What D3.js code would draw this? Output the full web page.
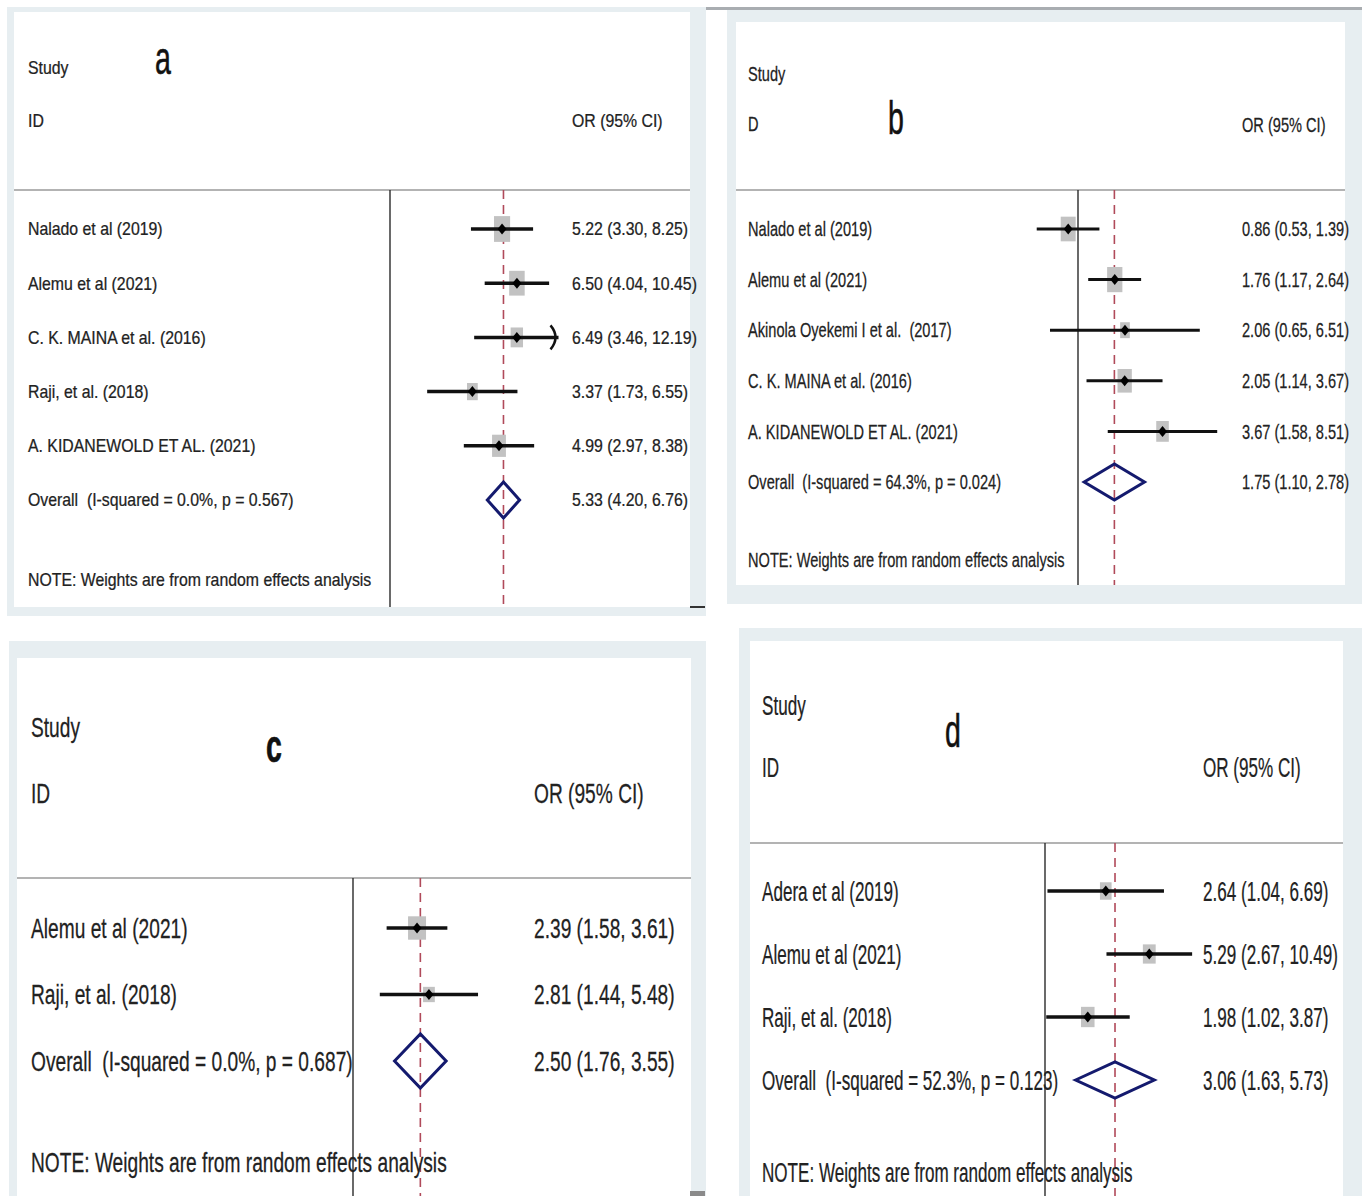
<!DOCTYPE html>
<html>
<head>
<meta charset="utf-8">
<script src="https://cdn.jsdelivr.net/npm/d3@7"></script>
<style>
body { margin: 0; background: #fff; }
svg { display: block; }
text { font-family: "Liberation Sans", Arial, sans-serif; fill: #222; stroke: #222; stroke-width: 0.25px; white-space: pre; }
</style>
</head>
<body>
<script>
/* global d3 */
// panel a
var studiesA = ['Nalado et al (2019)', 'Alemu et al (2021)', 'C. K. MAINA et al. (2016)', 'Raji, et al. (2018)', 'A. KIDANEWOLD ET AL. (2021)'];
var orA      = [5.22, 6.50, 6.49, 3.37, 4.99];
var lowA     = [3.30, 4.04, 3.46, 1.73, 2.97];
var highA    = [8.25, 10.45, 12.19, 6.55, 8.38];
var weightA  = [27, 25, 16, 12, 20];
var overallA = [5.33, 4.20, 6.76];
var hetA     = 'I-squared = 0.0%, p = 0.567';

// panel b
var studiesB = ['Nalado et al (2019)', 'Alemu et al (2021)', 'Akinola Oyekemi I et al.  (2017)', 'C. K. MAINA et al. (2016)', 'A. KIDANEWOLD ET AL. (2021)'];
var orB      = [0.86, 1.76, 2.06, 2.05, 3.67];
var lowB     = [0.53, 1.17, 0.65, 1.14, 1.58];
var highB    = [1.39, 2.64, 6.51, 3.67, 8.51];
var weightB  = [24, 25, 10, 22, 17];
var overallB = [1.75, 1.10, 2.78];
var hetB     = 'I-squared = 64.3%, p = 0.024';

// panel c
var studiesC = ['Alemu et al (2021)', 'Raji, et al. (2018)'];
var orC      = [2.39, 2.81];
var lowC     = [1.58, 1.44];
var highC    = [3.61, 5.48];
var weightC  = [70, 30];
var overallC = [2.50, 1.76, 3.55];
var hetC     = 'I-squared = 0.0%, p = 0.687';

// panel d
var studiesD = ['Adera et al (2019)', 'Alemu et al (2021)', 'Raji, et al. (2018)'];
var orD      = [2.64, 5.29, 1.98];
var lowD     = [1.04, 2.67, 1.02];
var highD    = [6.69, 10.49, 3.87];
var weightD  = [28, 34, 38];
var overallD = [3.06, 1.63, 5.73];
var hetD     = 'I-squared = 52.3%, p = 0.123';

var width  = 1362;
var height = 1196;
var fmt = d3.format('.2f');

var svg = d3.select('body')
.append('svg')
.attr('width', width)
.attr('height', height)
.attr('viewBox', [0, 0, width, height].join(' '));

// extra grey rule above panel b
svg.append('rect').attr('x', 705).attr('y', 7).attr('width', 657).attr('height', 3).attr('fill', '#a9adb1');

var panels = [
  {
    letter: 'a', studies: studiesA, or: orA, low: lowA, high: highA, weight: weightA, overall: overallA, het: hetA,
    frame: [7, 7, 706, 616], inner: [14, 12, 690, 607],
    domain: [1 / 12, 12], range: [221.5, 558.5],
    sep: 190, rows: [229, 500], note: 580,
    studyY: 68, idY: 121, idText: 'ID', orY: 121,
    labelX: 28, valueX: 572, letterX: 155, letterY: 74, letterBold: false,
    fs: 18, sx: 0.88, k: 3.1, boxRatio: 1.6, dh: 18, lw: 3.5
  },
  {
    letter: 'b', studies: studiesB, or: orB, low: lowB, high: highB, weight: weightB, overall: overallB, het: hetB,
    frame: [727, 10, 1362, 604], inner: [736, 22, 1345, 585],
    domain: [0.1, 10], range: [928.3, 1227.7],
    sep: 190, rows: [229, 482], note: 560,
    studyY: 74, idY: 124, idText: 'D', orY: 125,
    labelX: 748, valueX: 1242, letterX: 888, letterY: 134, letterBold: false,
    fs: 20, sx: 0.73, k: 3.05, boxRatio: 1.65, dh: 18, lw: 3
  },
  {
    letter: 'c', studies: studiesC, or: orC, low: lowC, high: highC, weight: weightC, overall: overallC, het: hetC,
    frame: [9, 641, 706, 1196], inner: [17, 658, 691, 1196],
    domain: [1 / 6, 6], range: [221.3, 484.7],
    sep: 878, rows: [928, 1061], note: 1162,
    studyY: 727, idY: 793, idText: 'ID', orY: 793,
    labelX: 31, valueX: 534, letterX: 266, letterY: 762, letterBold: true,
    fs: 27, sx: 0.71, k: 2.15, boxRatio: 1.3, dh: 27, lw: 3.5
  },
  {
    letter: 'd', studies: studiesD, or: orD, low: lowD, high: highD, weight: weightD, overall: overallD, het: hetD,
    frame: [739, 628, 1362, 1196], inner: [750, 641, 1343, 1196],
    domain: [1 / 11, 11], range: [894.9, 1195.1],
    sep: 843, rows: [891, 1080], note: 1172,
    studyY: 705, idY: 767, idText: 'ID', orY: 767,
    labelX: 762, valueX: 1203, letterX: 945, letterY: 747, letterBold: false,
    fs: 28, sx: 0.61, k: 2.2, boxRatio: 1.5, dh: 18, lw: 3.5
  }
];

panels.forEach(drawPanel);

// small dark marks at panel corners
svg.append('rect').attr('x', 690).attr('y', 606).attr('width', 15).attr('height', 2).attr('fill', '#333');
svg.append('rect').attr('x', 690).attr('y', 1191).attr('width', 15).attr('height', 5).attr('fill', '#8a8a8a');

/*
* Adds a horizontally condensed text label
*/
function label(g, x, y, str, p) {
  return g.append('text')
  .attr('transform', 'translate(' + x + ',' + y + ') scale(' + p.sx + ',1)')
  .attr('dy', '0.36em')
  .style('font-size', p.fs + 'px')
  .text(str);
}

/*
* Draws one forest plot panel
*/
function drawPanel(p) {
  var g = svg.append('g');

  g.append('rect')
  .attr('x', p.frame[0]).attr('y', p.frame[1])
  .attr('width', p.frame[2] - p.frame[0]).attr('height', p.frame[3] - p.frame[1])
  .attr('fill', '#e7eef1');

  g.append('rect')
  .attr('x', p.inner[0]).attr('y', p.inner[1])
  .attr('width', p.inner[2] - p.inner[0]).attr('height', p.inner[3] - p.inner[1])
  .attr('fill', '#fff');

  var x = d3.scaleLog().domain(p.domain).range(p.range);
  var n = p.studies.length;
  var y = d3.scalePoint().domain(d3.range(n + 1)).range(p.rows);
  var bottom = p.inner[3];

  // header
  label(g, p.labelX, p.studyY, 'Study', p);
  label(g, p.labelX, p.idY, p.idText, p);
  label(g, p.valueX, p.orY, 'OR (95% CI)', p);
  g.append('text')
  .attr('transform', 'translate(' + p.letterX + ',' + p.letterY + ') scale(0.62,1)')
  .style('font-size', '46px')
  .style('font-weight', p.letterBold ? 'bold' : 'normal')
  .style('fill', '#111')
  .style('stroke', '#111')
  .style('stroke-width', '0.6px')
  .text(p.letter);

  g.append('line')
  .attr('x1', p.inner[0]).attr('x2', p.inner[2])
  .attr('y1', p.sep).attr('y2', p.sep)
  .attr('stroke', '#b3b3b3').attr('stroke-width', 2);

  // null line
  g.append('line')
  .attr('x1', x(1)).attr('x2', x(1))
  .attr('y1', p.sep).attr('y2', bottom)
  .attr('stroke', '#2a2a2a').attr('stroke-width', 1.4);

  // overall effect line
  g.append('line')
  .attr('x1', x(p.overall[0])).attr('x2', x(p.overall[0]))
  .attr('y1', p.sep).attr('y2', bottom)
  .attr('stroke', '#b04a5a').attr('stroke-width', 1.6)
  .attr('stroke-dasharray', '9,6');

  var xmax = p.domain[1];
  var rows = g.selectAll('.study')
  .data(d3.range(n))
  .enter().append('g')
  .attr('class', 'study');

  rows.append('rect')
  .attr('x', function (i) { return x(p.or[i]) - p.k * Math.sqrt(p.weight[i]) / 2; })
  .attr('y', function (i) { return y(i) - p.k * Math.sqrt(p.weight[i]) * p.boxRatio / 2; })
  .attr('width', function (i) { return p.k * Math.sqrt(p.weight[i]); })
  .attr('height', function (i) { return p.k * Math.sqrt(p.weight[i]) * p.boxRatio; })
  .attr('fill', '#c2c2c2');

  rows.append('line')
  .attr('x1', function (i) { return x(p.low[i]); })
  .attr('x2', function (i) { return x(Math.min(p.high[i], xmax)); })
  .attr('y1', function (i) { return y(i); })
  .attr('y2', function (i) { return y(i); })
  .attr('stroke', '#111').attr('stroke-width', p.lw);

  rows.filter(function (i) { return p.high[i] > xmax; })
  .append('path')
  .attr('d', function (i) {
    var xe = x(xmax), yy = y(i);
    return 'M' + (xe - 8) + ',' + (yy - 12) + 'Q' + (xe + 2) + ',' + yy + ' ' + (xe - 8) + ',' + (yy + 12);
  })
  .attr('fill', 'none').attr('stroke', '#111').attr('stroke-width', 2.5);

  rows.append('path')
  .attr('d', function (i) {
    var cx = x(p.or[i]), cy = y(i);
    return 'M' + (cx - 4.5) + ',' + cy + 'L' + cx + ',' + (cy - 5.5) + 'L' + (cx + 4.5) + ',' + cy + 'L' + cx + ',' + (cy + 5.5) + 'Z';
  })
  .attr('fill', '#000');

  rows.each(function (i) {
    var r = d3.select(this);
    label(r, p.labelX, y(i), p.studies[i], p);
    label(r, p.valueX, y(i), fmt(p.or[i]) + ' (' + fmt(p.low[i]) + ', ' + fmt(p.high[i]) + ')', p);
  });

  // overall diamond
  var oy = y(n);
  g.append('path')
  .attr('d', 'M' + x(p.overall[1]) + ',' + oy +
    'L' + x(p.overall[0]) + ',' + (oy - p.dh) +
    'L' + x(p.overall[2]) + ',' + oy +
    'L' + x(p.overall[0]) + ',' + (oy + p.dh) + 'Z')
  .attr('fill', 'none').attr('stroke', '#141a6e').attr('stroke-width', 3)
  .attr('stroke-linejoin', 'miter');

  label(g, p.labelX, oy, 'Overall  (' + p.het + ')', p);
  label(g, p.valueX, oy, fmt(p.overall[0]) + ' (' + fmt(p.overall[1]) + ', ' + fmt(p.overall[2]) + ')', p);

  label(g, p.labelX, p.note, 'NOTE: Weights are from random effects analysis', p);
}
</script>
</body>
</html>
